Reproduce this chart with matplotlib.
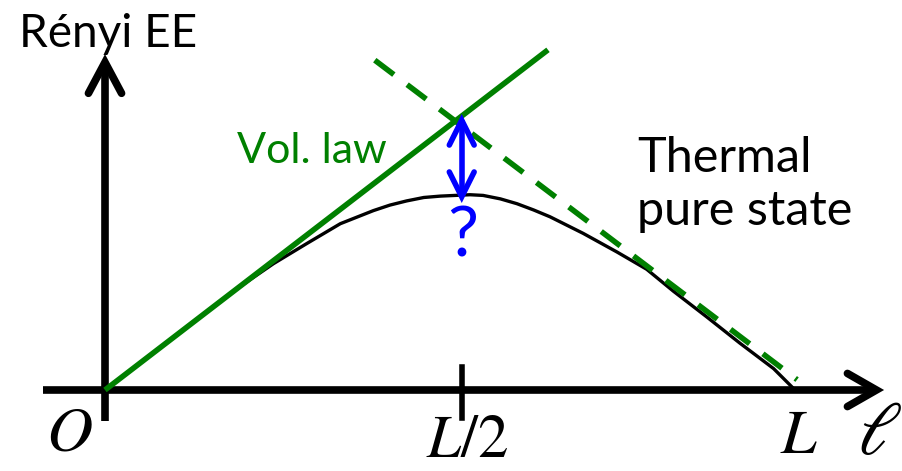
import numpy as np
import matplotlib.pyplot as plt

plt.rcParams['mathtext.fontset'] = 'stix'

# lengths in units of the system size L, entropy on the same scale
vol_x = [0.0, 0.642]
vol_y = [0.0, 0.493]

therm_x = [0.391, 1.003]
therm_y = [0.478, 0.015]

# Rényi EE of the thermal pure state
page_x = [0.0, 0.109, 0.196, 0.244, 0.292, 0.341, 0.389, 0.413, 0.437, 0.462,
          0.486, 0.529, 0.548, 0.573, 0.597, 0.621, 0.645, 0.693, 0.742,
          0.785, 0.824, 0.872, 0.920, 0.969, 1.0]
page_y = [0.0, 0.084, 0.150, 0.183, 0.212, 0.241, 0.260, 0.268, 0.274, 0.279,
          0.281, 0.283, 0.282, 0.277, 0.270, 0.261, 0.251, 0.227, 0.200,
          0.175, 0.143, 0.106, 0.068, 0.031, 0.0]

half = 0.517          # position of the L/2 tick
gap_top = 0.391       # volume law at L/2
gap_bot = 0.280       # curve at L/2

tick_labels = ['$O$', '$L/2$', '$L$']
tick_x = [-0.052, 0.525, 1.006]
tick_base = [-0.087, -0.097, -0.091]
tick_size = [46, 44, 46]
green = '#008000'
blue = '#0000ff'

fig = plt.figure(figsize=(9.03, 4.71), dpi=100)
ax = fig.add_axes([0, 0, 1, 1])
ax.set_xlim(-105/690, 798/690)
ax.set_ylim(-81/690, 390/690)
ax.set_aspect('equal')
ax.axis('off')


def chevron(tip, direction, length, width, **kw):
    d = np.array(direction, float)
    d /= np.hypot(*d)
    n = np.array([-d[1], d[0]])
    tip = np.array(tip, float)
    base = tip - length*d
    pts = np.array([base + width*n, tip, base - width*n])
    ax.plot(pts[:, 0], pts[:, 1], solid_capstyle='round',
            solid_joinstyle='miter', **kw)


# axes with open arrow heads
ax.plot([-0.09, 1.115], [0, 0], color='k', lw=5.5, solid_capstyle='butt')
chevron((1.118, 0), (1, 0), 0.042, 0.024, color='k', lw=5.5)
ax.plot([0, 0], [-0.045, 0.47], color='k', lw=5.5, solid_capstyle='butt')
chevron((0, 0.475), (0, 1), 0.045, 0.024, color='k', lw=5.5)
ax.plot([half, half], [-0.04, 0.033], color='k', lw=4)

ax.plot(page_x, page_y, color='k', lw=2.4, solid_joinstyle='round')
ax.plot(vol_x, vol_y, color=green, lw=4, solid_capstyle='butt')
ax.plot(therm_x, therm_y, color=green, lw=4, dashes=(4.3, 3),
        dash_capstyle='butt')

# double arrow marking the gap at L/2
ax.plot([half, half], [gap_top - 0.004, gap_bot + 0.004], color=blue, lw=4)
chevron((half, gap_top), (0, 1), 0.036, 0.018, color=blue, lw=4)
chevron((half, gap_bot), (0, -1), 0.036, 0.018, color=blue, lw=4)
ax.text(half + 0.002, 0.193, '?', color=blue, fontsize=50, family='Lato',
        ha='center', va='baseline')

ax.text(-0.125, 0.497, 'Rényi EE', fontsize=33, family='Lato', ha='left',
        va='baseline')
ax.text(0.191, 0.329, 'Vol. law', color=green, fontsize=31, family='Lato',
        ha='left', va='baseline')
ax.text(0.771, 0.316, 'Thermal', fontsize=35, family='Lato', ha='left',
        va='baseline')
ax.text(0.771, 0.239, 'pure state', fontsize=35, family='Lato', ha='left',
        va='baseline')

for xv, yv, sz, lab in zip(tick_x, tick_base, tick_size, tick_labels):
    ax.text(xv, yv, lab, fontsize=sz, ha='center', va='baseline')
ax.text(1.122, -0.093, r'$\ell$', fontsize=54, ha='center', va='baseline')

fig.savefig('out.png', dpi=100)
